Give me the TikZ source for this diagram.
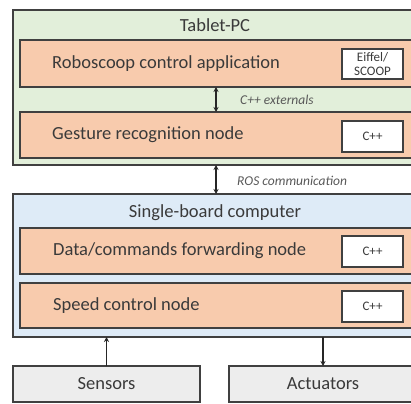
\documentclass[tikz,border=0pt]{standalone}
\usepackage{fontspec}
\setmainfont{Carlito}
\usetikzlibrary{arrows.meta}
\definecolor{bord}{HTML}{404040}
\definecolor{txt}{HTML}{3A3A3A}
\definecolor{greenf}{HTML}{E2EFDA}
\definecolor{bluef}{HTML}{DEEBF7}
\definecolor{orangef}{HTML}{F8CBAD}
\definecolor{grayf}{HTML}{EDEDED}
\definecolor{lbl}{HTML}{595959}
\tikzset{
  box/.style={draw=bord, line width=1.3pt, rectangle, anchor=north west, inner sep=0pt, outer sep=0pt},
  bigtxt/.style={text=txt, font=\fontsize{18.5}{22}\selectfont, inner sep=0pt},
  smalltxt/.style={text=txt, font=\fontsize{13}{14.5}\selectfont, align=center},
  lbltxt/.style={text=lbl, font=\fontsize{13.5}{16}\selectfont\itshape, inner sep=0pt, anchor=west},
  dbl/.style={{Stealth[length=5pt,width=5pt]}-{Stealth[length=5pt,width=5pt]}, line width=1.5pt, draw=black!85},
  sgl/.style={-{Stealth[length=5pt,width=5pt]}, line width=1.5pt, draw=black!85}
}
\begin{document}
\begin{tikzpicture}[x=1pt,y=-1pt]
\useasboundingbox[fill=white] (0,0) rectangle (411,403);
% outer containers
\node[box, fill=greenf, minimum width=404pt, minimum height=155pt] (tab) at (13,10) {};
\node[box, fill=bluef, minimum width=404pt, minimum height=143pt] (sbc) at (13,194) {};
\node[bigtxt] (tabt) at (215,25) {Tablet-PC};
\node[bigtxt] (sbct) at (215,213) {Single-board computer};
% orange nodes
\node[box, fill=orangef, minimum width=392pt, minimum height=47pt] (rob) at (20,40) {};
\node[box, fill=orangef, minimum width=392pt, minimum height=46pt] (ges) at (20,112) {};
\node[box, fill=orangef, minimum width=392pt, minimum height=46pt] (dat) at (20,228) {};
\node[box, fill=orangef, minimum width=392pt, minimum height=45pt] (spd) at (20,283) {};
\node[bigtxt, anchor=west] (robt) at (52,63.5) {Roboscoop control application};
\node[bigtxt, anchor=west] (gest) at (52,135) {Gesture recognition node};
\node[bigtxt, anchor=west] (datt) at (53,251) {Data/commands forwarding node};
\node[bigtxt, anchor=west] (spdt) at (53,305.5) {Speed control node};
% language boxes
\node[box, fill=white, minimum width=61pt, minimum height=30pt] (l1) at (342,49) {};
\node[smalltxt] (l1t) at (l1.center) {Eiffel/\\SCOOP};
\node[box, fill=white, minimum width=61pt, minimum height=31pt] (l2) at (342,121) {};
\node[smalltxt] (l2t) at (l2.center) {C++};
\node[box, fill=white, minimum width=61pt, minimum height=31pt] (l3) at (342,236) {};
\node[smalltxt] (l3t) at (l3.center) {C++};
\node[box, fill=white, minimum width=61pt, minimum height=31pt] (l4) at (342,291) {};
\node[smalltxt] (l4t) at (l4.center) {C++};
% sensors / actuators
\node[box, fill=grayf, minimum width=187pt, minimum height=36pt] (sen) at (13,366) {};
\node[box, fill=grayf, minimum width=188pt, minimum height=36pt] (act) at (229,366) {};
\node[bigtxt] (sent) at (sen.center) {Sensors};
\node[bigtxt] (actt) at (act.center) {Actuators};
% arrows
\coordinate (ax) at (216,0);
\draw[dbl] (rob.south -| ax) -- (ges.north -| ax);
\node[lbltxt] (extl) at (240,100) {C++ externals};
\draw[dbl] (tab.south -| ax) -- (sbc.north -| ax);
\node[lbltxt] (rosl) at (237,181) {ROS communication};
\draw[sgl] (sen.north) -- (sen.north |- sbc.south);
\draw[sgl] (act.north |- sbc.south) -- (act.north);
\end{tikzpicture}
\end{document}
